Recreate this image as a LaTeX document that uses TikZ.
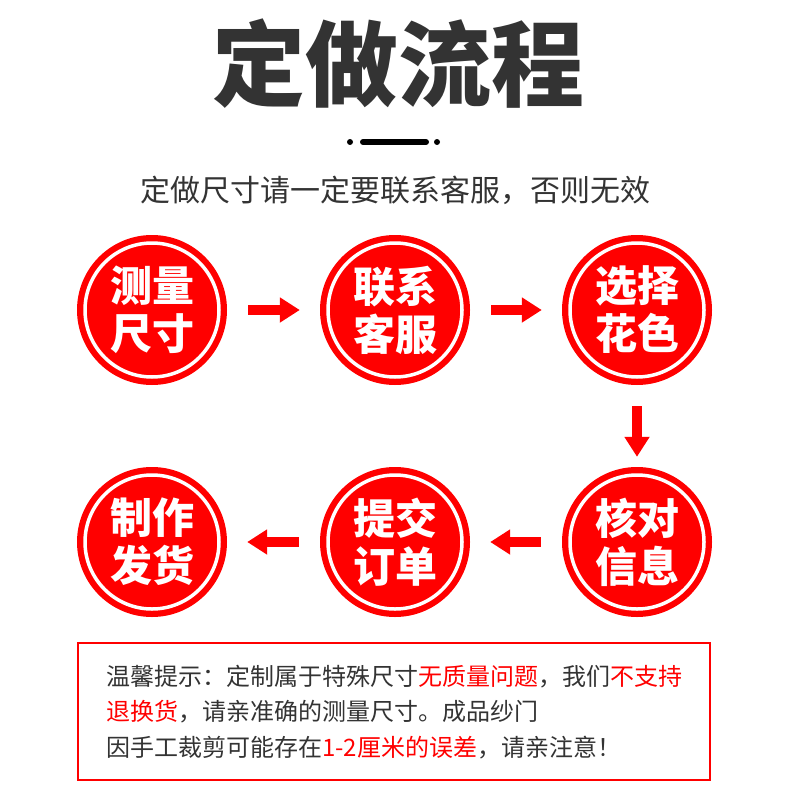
\documentclass[tikz,border=0pt]{standalone}
\usepackage{fontspec}
\usetikzlibrary{arrows.meta}
\newfontfamily\cjk{Noto Sans CJK SC}
\definecolor{flowred}{RGB}{255,0,0}
\definecolor{darktext}{RGB}{51,51,51}
\tikzstyle{stepdisc}=[circle, fill=flowred, minimum size=150pt, inner sep=0pt, text=white, align=center,
	font=\cjk\bfseries\fontsize{42}{48}\selectfont,
	path picture={\draw[white, line width=3.5pt] (path picture bounding box.center) circle (67pt);}]
\tikzstyle{flow}=[flowred, line width=10pt, -{Triangle[length=20pt, width=24pt]}, shorten <=21pt, shorten >=20pt]
\tikzstyle{tipline}=[anchor=west, inner sep=0pt, text=darktext, font=\cjk\fontsize{24}{24}\selectfont]

\begin{document}
\begin{tikzpicture}[x=1pt, y=-1pt]
		\useasboundingbox (0,0) rectangle (800,800);
		\node(title)[anchor=center, text=darktext, font=\cjk\bfseries\fontsize{93}{93}\selectfont] at (398,64) {定做流程};
		\fill (350,142) circle (3pt);
		\draw[line width=6pt, line cap=round] (363,142) -- (426,142);
		\fill (437,142) circle (3pt);
		\node(sub)[anchor=center, text=darktext, font=\cjk\fontsize{30}{30}\selectfont] at (395,190) {定做尺寸请一定要联系客服，否则无效};
		%%%%%%%
		\node(s1)[stepdisc] at (152,310) {测量\\尺寸};
		\node(s2)[stepdisc] at (395,310) {联系\\客服};
		\node(s3)[stepdisc] at (637,310) {选择\\花色};
		%%%%%%%
		\node(s4)[stepdisc] at (637,542) {核对\\信息};
		\node(s5)[stepdisc] at (395,542) {提交\\订单};
		\node(s6)[stepdisc] at (152,542) {制作\\发货};
		%%%%%%%
		\draw[flow] (s1) -- (s2);
		\draw[flow] (s2) -- (s3);
		\draw[flow, shorten >=10pt] (s3) -- (s4);
		\draw[flow] (s4) -- (s5);
		\draw[flow] (s5) -- (s6);
		%%%%%%%
		\draw[flowred, line width=2pt] (78,643) rectangle (710,780);
		\node(t1)[tipline] at (106,677) {温馨提示：定制属于特殊尺寸\textcolor{flowred}{无质量问题}，我们\textcolor{flowred}{不支持}};
		\node(t2)[tipline] at (106,712) {\textcolor{flowred}{退换货}，请亲准确的测量尺寸。成品纱门};
		\node(t3)[tipline] at (106,748) {因手工裁剪可能存在\textcolor{flowred}{1-2厘米的误差}，请亲注意！};
\end{tikzpicture}
\end{document}
